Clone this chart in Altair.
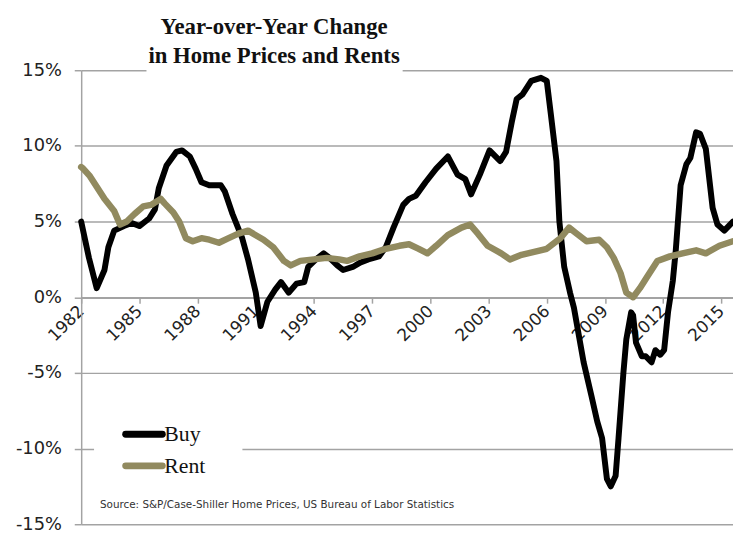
import altair as alt
import pandas as pd

# ---- data ----
buy_year = [1982.0, 1982.4, 1982.8, 1983.2, 1983.4, 1983.7, 1984.2, 1984.6, 1985.0, 1985.5,
            1985.8, 1986.0, 1986.4, 1986.9, 1987.2, 1987.6, 1987.9, 1988.2, 1988.6, 1989.2,
            1989.4, 1989.8, 1990.3, 1990.6, 1991.0, 1991.25, 1991.6, 1992.0, 1992.3, 1992.7,
            1993.1, 1993.5, 1993.7, 1994.1, 1994.5, 1994.8, 1995.2, 1995.5, 1996.0, 1996.4,
            1996.8, 1997.35, 1997.7, 1998.1, 1998.6, 1998.9, 1999.25, 1999.75, 2000.3, 2000.9,
            2001.4, 2001.8, 2002.1, 2002.55, 2003.05, 2003.6, 2003.9, 2004.2, 2004.45, 2004.75,
            2005.2, 2005.7, 2006.0, 2006.2, 2006.5, 2006.65, 2006.9, 2007.2, 2007.4, 2007.9,
            2008.3, 2008.6, 2008.85, 2009.1, 2009.3, 2009.55, 2009.7, 2009.95, 2010.1, 2010.35,
            2010.45, 2010.6, 2010.9, 2011.1, 2011.4, 2011.6, 2011.85, 2012.05, 2012.25, 2012.5,
            2012.65, 2012.9, 2013.2, 2013.4, 2013.7, 2013.9, 2014.2, 2014.55, 2014.8, 2015.15,
            2015.45, 2015.6]
buy_val = [5.0, 2.6, 0.6, 1.8, 3.3, 4.4, 4.7, 4.9, 4.7, 5.2,
           5.8, 7.2, 8.7, 9.6, 9.7, 9.3, 8.5, 7.6, 7.4, 7.4,
           7.0, 5.5, 3.9, 2.5, 0.3, -1.9, -0.3, 0.5, 1.0, 0.3,
           0.9, 1.0, 2.0, 2.5, 2.9, 2.6, 2.1, 1.8, 2.0, 2.3,
           2.5, 2.7, 3.3, 4.6, 6.1, 6.5, 6.7, 7.6, 8.5, 9.3,
           8.1, 7.8, 6.8, 8.1, 9.7, 9.0, 9.6, 11.6, 13.1, 13.4,
           14.3, 14.5, 14.3, 12.2, 9.0, 5.0, 2.0, 0.3, -0.7, -4.3,
           -6.5, -8.2, -9.3, -12.0, -12.5, -11.8, -9.3, -5.0, -2.8, -1.0,
           -1.2, -3.0, -3.9, -3.9, -4.3, -3.5, -3.8, -3.5, -1.0, 1.1,
           3.1, 7.4, 8.8, 9.2, 10.9, 10.8, 9.8, 5.9, 4.8, 4.4,
           4.8, 5.0]

rent_year = [1982.0, 1982.1, 1982.45, 1982.8, 1983.2, 1983.7, 1984.0, 1984.35, 1984.75, 1985.2,
             1985.6, 1986.1, 1986.3, 1986.75, 1987.05, 1987.4, 1987.75, 1988.2, 1988.6, 1989.1,
             1989.6, 1990.1, 1990.6, 1991.0, 1991.4, 1991.9, 1992.45, 1992.8, 1993.3, 1994.0,
             1994.65, 1995.3, 1995.7, 1996.35, 1997.0, 1997.7, 1998.4, 1998.9, 1999.4, 1999.85,
             2000.3, 2000.9, 2001.6, 2002.05, 2002.45, 2002.95, 2003.65, 2004.1, 2004.7, 2005.35,
             2006.0, 2006.7, 2007.15, 2007.55, 2008.05, 2008.7, 2009.1, 2009.45, 2009.8, 2010.1,
             2010.45, 2010.8, 2011.2, 2011.7, 2012.35, 2013.0, 2013.7, 2014.2, 2014.9, 2015.6]
rent_val = [8.6, 8.5, 8.0, 7.3, 6.5, 5.7, 4.8, 5.0, 5.5, 6.0,
            6.1, 6.5, 6.2, 5.6, 5.0, 3.9, 3.7, 3.9, 3.8, 3.6,
            3.9, 4.2, 4.4, 4.1, 3.8, 3.3, 2.4, 2.1, 2.4, 2.5,
            2.6, 2.5, 2.4, 2.7, 2.9, 3.2, 3.4, 3.5, 3.2, 2.9,
            3.4, 4.1, 4.6, 4.8, 4.2, 3.4, 2.9, 2.5, 2.8, 3.0,
            3.2, 3.9, 4.6, 4.2, 3.7, 3.8, 3.3, 2.6, 1.6, 0.3,
            0.0, 0.6, 1.4, 2.4, 2.7, 2.9, 3.1, 2.9, 3.4, 3.7]

series = ["Buy", "Rent"]
colors = ["#000000", "#918a5f"]
x_ticks = [1982, 1985, 1988, 1991, 1994, 1997, 2000, 2003, 2006, 2009, 2012, 2015]
y_ticks = [-15, -10, -5, 0, 5, 10, 15]
x_domain = [1982, 2015.6]
y_domain = [-15, 15]
title_lines = ["Year-over-Year Change", "in Home Prices and Rents"]
source_note = "Source: S&P/Case-Shiller Home Prices, US Bureau of Labor Statistics"

# ---- layout ----
W, H = 659, 459
GRID = "#a3a3a3"
LABEL = "#222222"

buy_df = pd.DataFrame({"year": buy_year, "value": buy_val, "series": series[0]})
rent_df = pd.DataFrame({"year": rent_year, "value": rent_val, "series": series[1]})

x_enc = alt.X(
    "year:Q",
    scale=alt.Scale(domain=x_domain, nice=False, zero=False),
    axis=alt.Axis(
        values=x_ticks, format="d", title=None, grid=False,
        offset=-H * (0 - y_domain[0]) / (y_domain[1] - y_domain[0]),
        labelAngle=-45, labelAlign="right", labelBaseline="middle",
        labelPadding=5, tickSize=6, tickColor=GRID, tickWidth=1.5,
        domainColor=GRID, domainWidth=1.5,
        labelFont="DejaVu Sans", labelFontSize=17, labelColor=LABEL,
    ),
)
y_enc = alt.Y(
    "value:Q",
    scale=alt.Scale(domain=y_domain, nice=False, zero=False),
    axis=alt.Axis(
        values=y_ticks, labelExpr="datum.value + '%'", title=None,
        grid=True, gridColor=GRID, gridWidth=1.5,
        domainColor=GRID, domainWidth=1.5, tickColor=GRID, tickWidth=1.5,
        tickSize=7, labelPadding=13,
        labelFont="DejaVu Sans", labelFontSize=18, labelColor=LABEL,
    ),
)

buy_line = alt.Chart(buy_df).mark_line(
    color=colors[0], strokeWidth=6, strokeJoin="round", strokeCap="round"
).encode(x=x_enc, y=y_enc)
rent_line = alt.Chart(rent_df).mark_line(
    color=colors[1], strokeWidth=6.5, strokeJoin="round", strokeCap="round"
).encode(x="year:Q", y="value:Q")

one = pd.DataFrame({"k": [0]})

# title (white box behind it hides the top gridline)
title_box = alt.Chart(one).mark_rect(color="white").encode(
    x=alt.value(66), x2=alt.value(325), y=alt.value(-4), y2=alt.value(4))
title_marks = [
    alt.Chart(pd.DataFrame({"t": [line]})).mark_text(
        font="Liberation Serif", fontSize=23, fontWeight="bold", color="#111111",
        align="center", baseline="alphabetic",
    ).encode(text="t:N", x=alt.value(195), y=alt.value(yy))
    for line, yy in zip(title_lines, [-37, -7])
]

# legend inside the plot
legend_box = alt.Chart(one).mark_rect(color="white").encode(
    x=alt.value(13), x2=alt.value(163), y=alt.value(347), y2=alt.value(420))
legend_marks = []
for name, col, yy in zip(series, colors, [368, 400]):
    legend_marks.append(
        alt.Chart(one).mark_rule(color=col, strokeWidth=7, strokeCap="round").encode(
            x=alt.value(45), x2=alt.value(82), y=alt.value(yy)))
    legend_marks.append(
        alt.Chart(pd.DataFrame({"t": [name]})).mark_text(
            font="Liberation Serif", fontSize=22, color="#111111",
            align="left", baseline="middle",
        ).encode(text="t:N", x=alt.value(84), y=alt.value(yy)))

source = alt.Chart(pd.DataFrame({"t": [source_note]})).mark_text(
    font="DejaVu Sans", fontSize=10.5, color="#333333", align="left", baseline="middle"
).encode(text="t:N", x=alt.value(19), y=alt.value(440))

chart = alt.layer(
    buy_line, rent_line, title_box, *title_marks, legend_box, *legend_marks, source
).properties(
    width=W, height=H,
    autosize=alt.AutoSizeParams(type="none"),
    padding={"left": 74, "top": 60, "right": 0, "bottom": 9},
    background="white",
).configure_view(stroke=None)

chart.save("out.html", embed_options={"renderer": "svg", "actions": False})
